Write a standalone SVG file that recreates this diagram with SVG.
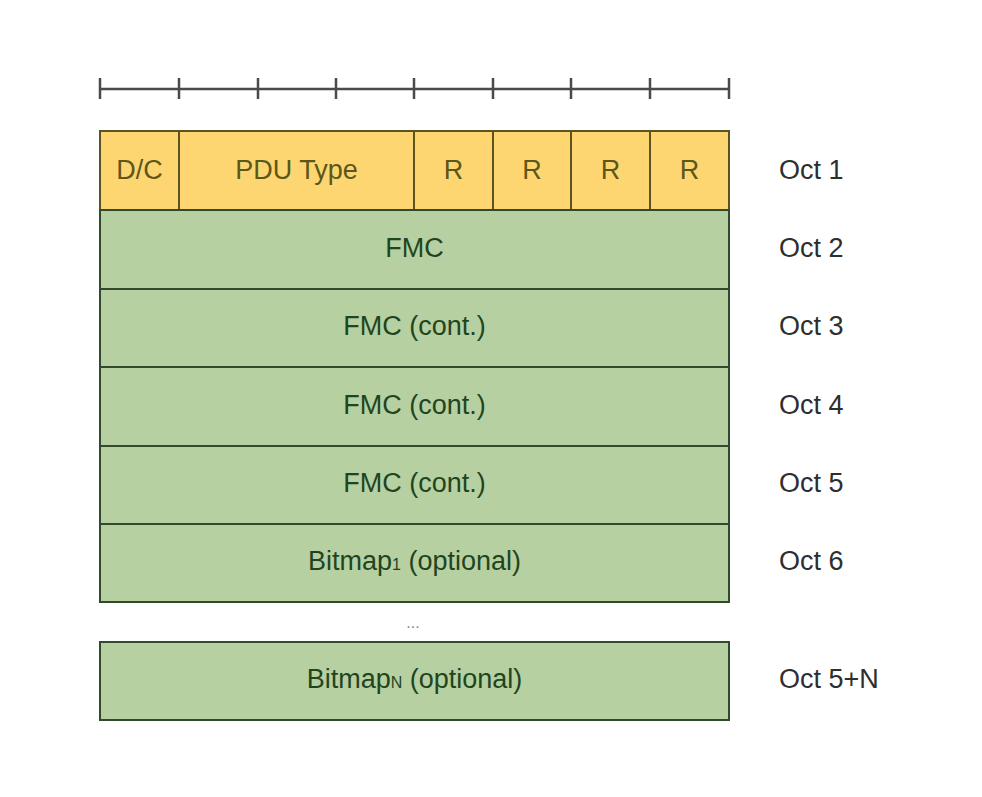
<svg xmlns="http://www.w3.org/2000/svg" width="982" height="797" viewBox="0 0 982 797">
<style>
  text { font-family: "Liberation Sans", Arial, sans-serif; font-size: 27px; text-anchor: middle; }
  .y { fill: #fed671; stroke: #5a5520; stroke-width: 2; }
  .ydiv { stroke: #5a5520; stroke-width: 2; }
  .yt { fill: #5d5719; }
  .g { fill: #b7d0a1; stroke: #2f4a2c; stroke-width: 2; }
  .gt { fill: #1f451f; }
  .oct { fill: #2e2e2e; text-anchor: start; }
  .ruler { stroke: #4a4a4a; stroke-width: 2.5; }
  .dots { fill: #888; font-size: 16px; }
</style>
<rect width="982" height="797" fill="#ffffff"/>
<g id="ruler">
  <line class="ruler" x1="100" y1="89" x2="729" y2="89"/>
  <line class="ruler" x1="100" y1="78" x2="100" y2="99"/>
  <line class="ruler" x1="179" y1="78" x2="179" y2="99"/>
  <line class="ruler" x1="258" y1="78" x2="258" y2="99"/>
  <line class="ruler" x1="336" y1="78" x2="336" y2="99"/>
  <line class="ruler" x1="414" y1="78" x2="414" y2="99"/>
  <line class="ruler" x1="493" y1="78" x2="493" y2="99"/>
  <line class="ruler" x1="571" y1="78" x2="571" y2="99"/>
  <line class="ruler" x1="650" y1="78" x2="650" y2="99"/>
  <line class="ruler" x1="729" y1="78" x2="729" y2="99"/>
</g>
<g id="oct1">
  <rect class="y" x="100" y="131" width="629" height="79"/>
  <line class="ydiv" x1="179" y1="131" x2="179" y2="210"/>
  <line class="ydiv" x1="414" y1="131" x2="414" y2="210"/>
  <line class="ydiv" x1="493" y1="131" x2="493" y2="210"/>
  <line class="ydiv" x1="571" y1="131" x2="571" y2="210"/>
  <line class="ydiv" x1="650" y1="131" x2="650" y2="210"/>
  <text class="yt" x="139.5" y="179">D/C</text>
  <text class="yt" x="296.5" y="179">PDU Type</text>
  <text class="yt" x="453.5" y="179">R</text>
  <text class="yt" x="532" y="179">R</text>
  <text class="yt" x="610.5" y="179">R</text>
  <text class="yt" x="689.5" y="179">R</text>
  <text class="oct" x="779" y="179">Oct 1</text>
</g>
<g id="oct2">
  <rect class="g" x="100" y="210" width="629" height="79"/>
  <text class="gt" x="414.5" y="257">FMC</text>
  <text class="oct" x="779" y="257">Oct 2</text>
</g>
<g id="oct3">
  <rect class="g" x="100" y="289" width="629" height="78"/>
  <text class="gt" x="414.5" y="335">FMC (cont.)</text>
  <text class="oct" x="779" y="335">Oct 3</text>
</g>
<g id="oct4">
  <rect class="g" x="100" y="367" width="629" height="79"/>
  <text class="gt" x="414.5" y="414">FMC (cont.)</text>
  <text class="oct" x="779" y="414">Oct 4</text>
</g>
<g id="oct5">
  <rect class="g" x="100" y="446" width="629" height="78"/>
  <text class="gt" x="414.5" y="492">FMC (cont.)</text>
  <text class="oct" x="779" y="492">Oct 5</text>
</g>
<g id="oct6">
  <rect class="g" x="100" y="524" width="629" height="78"/>
  <text class="gt" x="414.5" y="570">Bitmap<tspan font-size="16">1</tspan> (optional)</text>
  <text class="oct" x="779" y="570">Oct 6</text>
</g>
<text class="dots" x="413" y="628">...</text>
<g id="oct5n">
  <rect class="g" x="100" y="642" width="629" height="78"/>
  <text class="gt" x="414.5" y="688">Bitmap<tspan font-size="16">N</tspan> (optional)</text>
  <text class="oct" x="779" y="688">Oct 5+N</text>
</g>
<g id="connectors"/>
</svg>
